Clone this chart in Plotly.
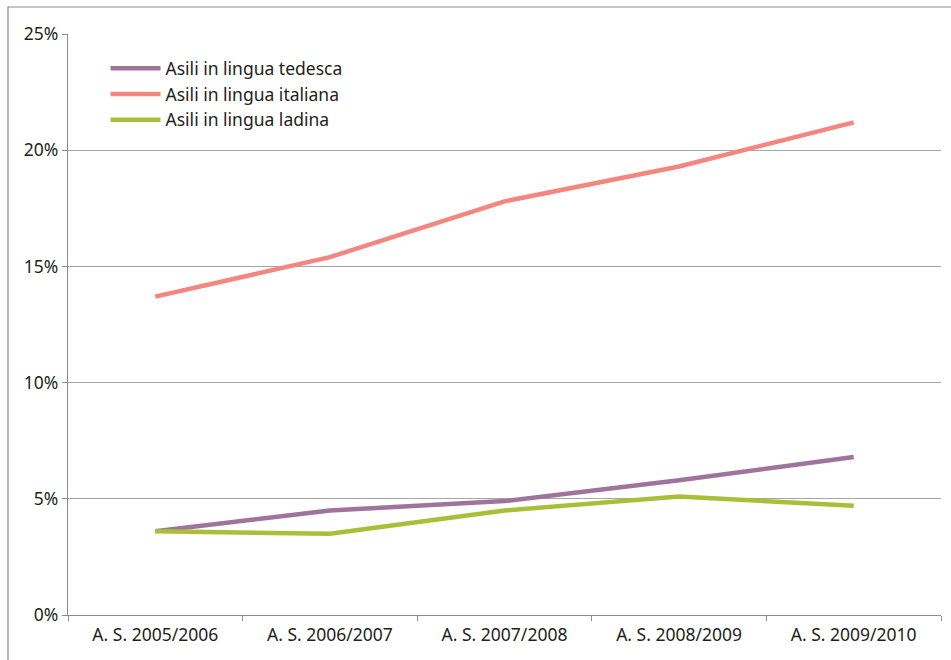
import plotly.graph_objects as go

# School years on the category axis
anni = ["A. S. 2005/2006", "A. S. 2006/2007", "A. S. 2007/2008",
        "A. S. 2008/2009", "A. S. 2009/2010"]

# Share (%) per kindergarten language group
tedesca = [3.6, 4.5, 4.9, 5.8, 6.8]
italiana = [13.7, 15.4, 17.8, 19.3, 21.2]
ladina = [3.6, 3.5, 4.5, 5.1, 4.7]

nomi = ["Asili in lingua tedesca", "Asili in lingua italiana", "Asili in lingua ladina"]
colori = ["#a0739c", "#f3867e", "#a9bf37"]

FONT = "Noto Sans"
TXT = "#231f20"
GRIGIO = "#a6a6a6"
FS = 17.5

fig = go.Figure()
for nome, valori, col in zip(nomi, [tedesca, italiana, ladina], colori):
    fig.add_trace(go.Scatter(
        x=anni, y=valori, name=nome, mode="lines",
        line=dict(color=col, width=4.5),
        hoverinfo="skip",
    ))

W, H = 951, 660
ML, MR, MT, MB = 68, 10, 34, 45
pw, ph = W - ML - MR, H - MT - MB

# outer frame around the chart (right and bottom edges run off the page)
fig.add_shape(
    type="rect", xref="paper", yref="paper",
    x0=(8 - ML) / pw, x1=(W + 20 - ML) / pw,
    y0=-(H + 20 - (MT + ph)) / ph, y1=(MT + ph - 7) / ph,
    line=dict(color="#8c8c8c", width=1.2), fillcolor="rgba(0,0,0,0)",
    layer="below",
)

fig.update_layout(
    width=W, height=H,
    margin=dict(l=ML, r=MR, t=MT, b=MB),
    paper_bgcolor="white", plot_bgcolor="white",
    font=dict(family=FONT, size=FS, color=TXT),
    showlegend=True,
    legend=dict(
        x=0.043, y=0.972, xanchor="left", yanchor="top",
        bgcolor="rgba(0,0,0,0)", font=dict(family=FONT, size=FS, color=TXT),
        itemwidth=50, tracegroupgap=0,
    ),
    xaxis=dict(
        type="category", showgrid=False,
        showline=True, linecolor="#8c8c8c", linewidth=1.2,
        ticks="outside", tickson="boundaries", ticklen=5, tickcolor="#8c8c8c",
        tickfont=dict(family=FONT, size=FS, color=TXT),
        ticklabelstandoff=4,
        range=[-0.5, 4.5],
    ),
    yaxis=dict(
        range=[0, 25], dtick=5, ticksuffix="%",
        showgrid=True, gridcolor=GRIGIO, gridwidth=1.2,
        showline=True, linecolor="#8c8c8c", linewidth=1.2,
        ticks="outside", ticklen=5, tickcolor="#8c8c8c",
        tickfont=dict(family=FONT, size=FS, color=TXT),
        zeroline=False,
    ),
)

fig.write_html("out.html")
